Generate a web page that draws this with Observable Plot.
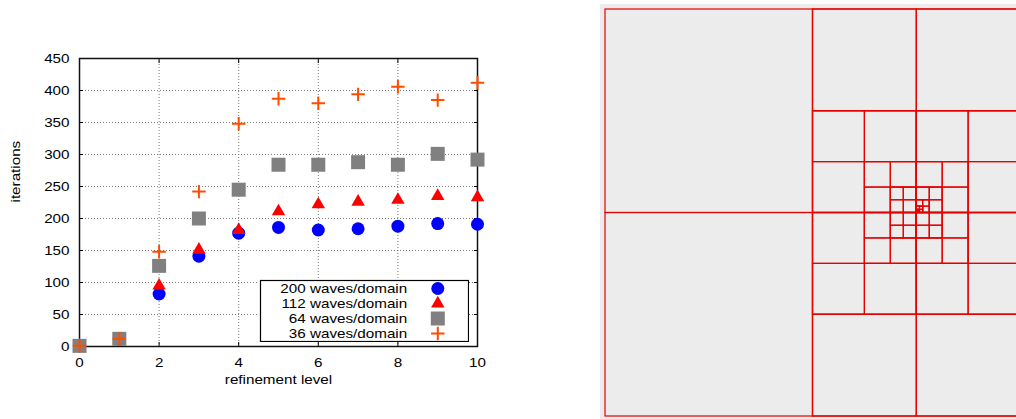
<!DOCTYPE html>
<html><head><meta charset="utf-8">
<script src="https://cdn.jsdelivr.net/npm/d3@7"></script>
<script src="https://cdn.jsdelivr.net/npm/@observablehq/plot@0.6"></script>
<style>
html,body{margin:0;padding:0;background:#fff;}
#root{position:relative;width:1016px;height:419px;overflow:hidden;background:#fff;}
#root > div{position:absolute;}
</style></head><body>
<div id="root">
  <div id="left" style="left:0;top:0"></div>
  <div id="legend" style="left:259px;top:279px"></div>
  <div id="right" style="left:600px;top:4px"></div>
</div>
<script>
// ---- data: left panel ----
const level = [0, 1, 2, 3, 4, 5, 6, 7, 8, 9, 10];
const w200 = [1, 11, 82, 141, 177, 186, 182, 184, 188, 192, 191];
const w112 = [1, 11, 95, 151, 182, 211, 222, 226, 229, 235, 233];
const w64  = [1, 12, 126, 200, 245, 284, 284, 288, 284, 301, 292];
const w36  = [1, 12, 148, 242, 348, 387, 380, 394, 406, 385, 412];
const seriesNames = ["200 waves/domain", "112 waves/domain", "64 waves/domain", "36 waves/domain"];
const xTicks = [0, 2, 4, 6, 8, 10];
const yTicks = [0, 50, 100, 150, 200, 250, 300, 350, 400, 450];
const xLabel = "refinement level";
const yLabel = "iterations";

// ---- data: right panel (quadtree refinement regions, unit square) ----
const regionX0 = [0,   0.5, 0.5,  0.625, 0.6875, 0.75,    0.75,     0.75];
const regionX1 = [1,   1,   1,    0.875, 0.8125, 0.78125, 0.765625, 0.7578125];
const regionY0 = [0,   0,   0.25, 0.375, 0.4375, 0.5,     0.5,      0.5];
const regionY1 = [1,   1,   0.75, 0.625, 0.5625, 0.53125, 0.515625, 0.5078125];
const cellSize = [0.5, 0.25, 0.125, 0.0625, 0.03125, 0.015625, 0.0078125, 0.00390625];

// ---- styles ----
const colors = ["#0000ff", "#ff0000", "#808080", "#ff4d00"];
const symbols = ["circle", "triangle", "square", "plus"];
const radii = [6.5, 5, 7.9, 4.4];
const font = "'Liberation Sans', Arial, sans-serif";

const values = [w200, w112, w64, w36];
const tables = values.map(v => level.map((l, i) => ({level: l, it: v[i]})));

function dotMark(k, data, extra) {
  const o = {symbol: symbols[k], r: radii[k], ...extra};
  if (symbols[k] === "plus") { o.stroke = colors[k]; o.strokeWidth = 2; o.fill = "none"; }
  else { o.fill = colors[k]; o.stroke = "none"; }
  return Plot.dot(data, o);
}

const left = Plot.plot({
  width: 500, height: 419,
  marginLeft: 79, marginRight: 23, marginTop: 58, marginBottom: 73,
  style: {fontFamily: font, fontSize: "13px", background: "#fff", color: "#000"},
  x: {domain: [0, 10], axis: null},
  y: {domain: [0, 450], axis: null},
  marks: [
    Plot.gridX(xTicks, {stroke: "#777", strokeOpacity: 1, strokeDasharray: "1,2"}),
    Plot.gridY(yTicks, {stroke: "#777", strokeOpacity: 1, strokeDasharray: "1,2"}),
    Plot.axisX({ticks: xTicks, anchor: "bottom", tickSize: 0, tickPadding: 11, label: null}),
    Plot.axisY({ticks: yTicks, anchor: "left", tickSize: 0, tickPadding: 10, label: null}),
    Plot.axisX({ticks: xTicks, anchor: "bottom", tickSize: -4, tickFormat: () => "", label: null}),
    Plot.axisX({ticks: xTicks, anchor: "top", tickSize: -4, tickFormat: () => "", label: null}),
    Plot.axisY({ticks: yTicks, anchor: "left", tickSize: -4, tickFormat: () => "", label: null}),
    Plot.axisY({ticks: yTicks, anchor: "right", tickSize: -4, tickFormat: () => "", label: null}),
    Plot.frame({stroke: "#111", strokeWidth: 1.5}),
    Plot.text([xLabel], {frameAnchor: "bottom", text: d => d, dy: 37, fill: "#000"}),
    Plot.text([yLabel], {frameAnchor: "left", text: d => d, rotate: -90, dx: -64, fill: "#000"}),
    ...tables.map((t, k) => dotMark(k, t, {x: "level", y: "it"}))
  ]
});
document.getElementById("left").appendChild(left);

const legend = Plot.plot({
  width: 210, height: 63, margin: 1,
  style: {fontFamily: font, fontSize: "13px", background: "#fff", color: "#000"},
  y: {type: "point", domain: seriesNames, range: [8.7, 55], padding: 0, axis: null},
  marks: [
    Plot.frame({stroke: "#000", strokeWidth: 1.2}),
    Plot.text(seriesNames, {frameAnchor: "right", y: d => d, text: d => d, textAnchor: "end", dx: -61.3, fill: "#000"}),
    ...seriesNames.map((n, k) => dotMark(k, [n], {frameAnchor: "right", y: d => d, dx: -30.7}))
  ]
});
document.getElementById("legend").appendChild(legend);

// build quadtree cells from refinement regions
const cells = [];
regionX0.forEach((x0, k) => {
  const s = cellSize[k];
  const nx = Math.round((regionX1[k] - x0) / s), ny = Math.round((regionY1[k] - regionY0[k]) / s);
  for (let i = 0; i < nx; i++) for (let j = 0; j < ny; j++)
    cells.push({x1: x0 + i * s, x2: x0 + (i + 1) * s, y1: regionY0[k] + j * s, y2: regionY0[k] + (j + 1) * s});
});

const right = Plot.plot({
  width: 416, height: 415, margin: 0,
  style: {background: "#ececec"},
  x: {domain: [0, 1], range: [5, 420], axis: null},
  y: {domain: [0, 1], range: [412, 5], axis: null},
  marks: [
    Plot.rect(cells, {x1: "x1", x2: "x2", y1: "y1", y2: "y2", fill: "none", stroke: "#e60000", strokeWidth: 1.2})
  ]
});
document.getElementById("right").appendChild(right);

// gnuplot-like horizontally stretched lettering
document.querySelectorAll("#left text, #legend text").forEach(t => {
  const L = t.getComputedTextLength();
  if (L > 0) {
    t.setAttribute("textLength", (L * 1.17).toFixed(2));
    t.setAttribute("lengthAdjust", "spacingAndGlyphs");
  }
});
</script>
</body></html>
